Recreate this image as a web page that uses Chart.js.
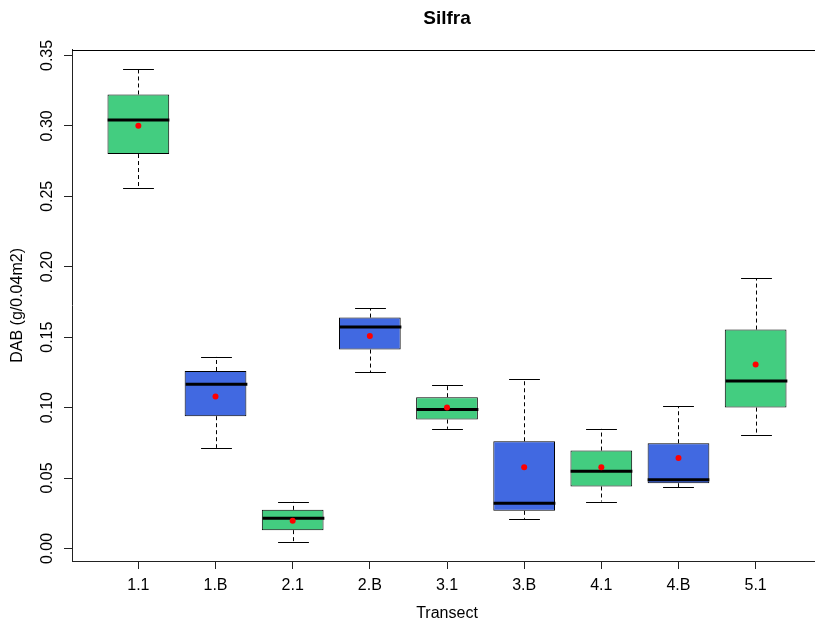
<!DOCTYPE html>
<html lang="en">
<head>
  <meta charset="UTF-8">
  <title>Silfra - DAB by transect</title>
  <script src="https://cdn.jsdelivr.net/npm/chart.js"></script>
  <style>
    html, body { margin: 0; padding: 0; background: #fff; overflow: hidden; }
    .chart-container { position: relative; width: 840px; height: 621px; }
  </style>
</head>
<body>
  <div class="chart-container">
    <canvas id="chart"></canvas>
  </div>

  <script>
    // values (g/0.04m2)
    const categories = ['1.1', '1.B', '2.1', '2.B', '3.1', '3.B', '4.1', '4.B', '5.1'];
    const whiskerLo = [0.2560, 0.0714, 0.0045, 0.1251, 0.0849, 0.0210, 0.0333, 0.0433, 0.0809];
    const q1        = [0.2800, 0.0939, 0.0130, 0.1412, 0.0915, 0.0267, 0.0440, 0.0463, 0.1000];
    const median    = [0.3041, 0.1166, 0.0215, 0.1572, 0.0986, 0.0321, 0.0548, 0.0487, 0.1189];
    const q3        = [0.3223, 0.1260, 0.0274, 0.1639, 0.1074, 0.0761, 0.0695, 0.0747, 0.1554];
    const whiskerHi = [0.3406, 0.1360, 0.0331, 0.1705, 0.1161, 0.1203, 0.0849, 0.1008, 0.1920];
    const means     = [0.3001, 0.1078, 0.0196, 0.1508, 0.1000, 0.0577, 0.0577, 0.0643, 0.1306];
    const yTicks = [0, 0.05, 0.10, 0.15, 0.20, 0.25, 0.30, 0.35];

    const GREEN = '#43CD80';
    const BLUE = '#4169E1';

    Chart.defaults.font.family = '"Liberation Sans", Arial, sans-serif';
    Chart.defaults.font.size = 16;
    Chart.defaults.color = '#000';

    // whiskers, caps, medians and the top of the plot frame (R style)
    const boxExtras = {
      id: 'boxExtras',
      afterDatasetDraw(chart, args) {
        if (args.index !== 0) return;
        const ctx = chart.ctx;
        const x = chart.scales.x;
        const y = chart.scales.y;
        const meta = chart.getDatasetMeta(0);
        ctx.save();
        ctx.strokeStyle = '#000';
        categories.forEach((c, i) => {
          const cx = Math.round(x.getPixelForValue(i + 1)) + 0.5;
          const half = meta.data[i].width / 2;
          ctx.lineWidth = 1;
          ctx.setLineDash([4, 3]);
          ctx.beginPath();
          ctx.moveTo(cx, y.getPixelForValue(q3[i]));
          ctx.lineTo(cx, y.getPixelForValue(whiskerHi[i]));
          ctx.moveTo(cx, y.getPixelForValue(q1[i]));
          ctx.lineTo(cx, y.getPixelForValue(whiskerLo[i]));
          ctx.stroke();
          ctx.setLineDash([]);
          ctx.beginPath();
          [whiskerHi[i], whiskerLo[i]].forEach(v => {
            const py = Math.round(y.getPixelForValue(v)) + 0.5;
            ctx.moveTo(cx - half / 2, py);
            ctx.lineTo(cx + half / 2, py);
          });
          ctx.stroke();
          ctx.lineWidth = 3;
          ctx.beginPath();
          const my = y.getPixelForValue(median[i]);
          ctx.moveTo(cx - half, my);
          ctx.lineTo(cx + half, my);
          ctx.stroke();
        });
        ctx.restore();
      },
      afterDraw(chart) {
        const {ctx, chartArea} = chart;
        const top = Math.round(chartArea.top) + 0.5;
        ctx.save();
        ctx.strokeStyle = '#000';
        ctx.lineWidth = 1;
        ctx.beginPath();
        ctx.moveTo(chartArea.left, top);
        ctx.lineTo(chartArea.right, top);
        ctx.stroke();
        ctx.restore();
      }
    };

    const ctx = document.getElementById('chart').getContext('2d');
    new Chart(ctx, {
      type: 'bar',
      data: {
        datasets: [
          {
            type: 'bar',
            label: 'IQR',
            data: categories.map((c, i) => ({ x: i + 1, y: [q1[i], q3[i]] })),
            backgroundColor: categories.map(c => c.endsWith('B') ? BLUE : GREEN),
            borderColor: '#000',
            borderWidth: 1,
            borderSkipped: false,
            barPercentage: 0.8,
            categoryPercentage: 1.0,
            order: 2
          },
          {
            type: 'scatter',
            label: 'Mean',
            data: categories.map((c, i) => ({ x: i + 1, y: means[i] })),
            backgroundColor: '#ff0000',
            borderWidth: 0,
            pointRadius: 3,
            order: 1
          }
        ]
      },
      options: {
        responsive: true,
        maintainAspectRatio: false,
        animation: false,
        events: [],
        layout: { padding: { left: 0, right: 18, top: 0, bottom: 0 } },
        plugins: {
          legend: { display: false },
          tooltip: { enabled: false },
          title: {
            display: true,
            text: 'Silfra',
            fullSize: false,
            color: '#000',
            font: { size: 19, weight: 'bold', lineHeight: 1.2 },
            padding: { top: 7, bottom: 20 }
          }
        },
        scales: {
          x: {
            type: 'linear',
            offset: false,
            min: 0.14,
            max: 9.86,
            afterBuildTicks: scale => { scale.ticks = categories.map((c, i) => ({ value: i + 1 })); },
            afterFit: scale => { scale.height = 60; },
            ticks: {
              autoSkip: false,
              maxRotation: 0,
              padding: 7,
              callback: (v, i) => categories[i]
            },
            grid: { offset: false, drawOnChartArea: false, drawTicks: true, tickLength: 8, color: '#222' },
            border: { display: true, color: '#222' },
            title: {
              display: true,
              text: 'Transect',
              font: { size: 16, lineHeight: 0.88 },
              padding: { top: 0, bottom: 0 }
            }
          },
          y: {
            min: -0.0089,
            max: 0.354,
            afterBuildTicks: scale => { scale.ticks = yTicks.map(v => ({ value: v })); },
            afterFit: scale => { scale.width = 72; },
            ticks: {
              autoSkip: false,
              minRotation: 90,
              maxRotation: 90,
              crossAlign: 'center',
              padding: 1,
              callback: v => v.toFixed(2)
            },
            grid: { drawOnChartArea: false, drawTicks: true, tickLength: 8, color: '#222' },
            border: { display: true, color: '#222' },
            title: {
              display: true,
              text: 'DAB (g/0.04m2)',
              font: { size: 16, lineHeight: 1 },
              padding: { top: 10, bottom: 0 }
            }
          }
        }
      },
      plugins: [boxExtras]
    });
  </script>
</body>
</html>
